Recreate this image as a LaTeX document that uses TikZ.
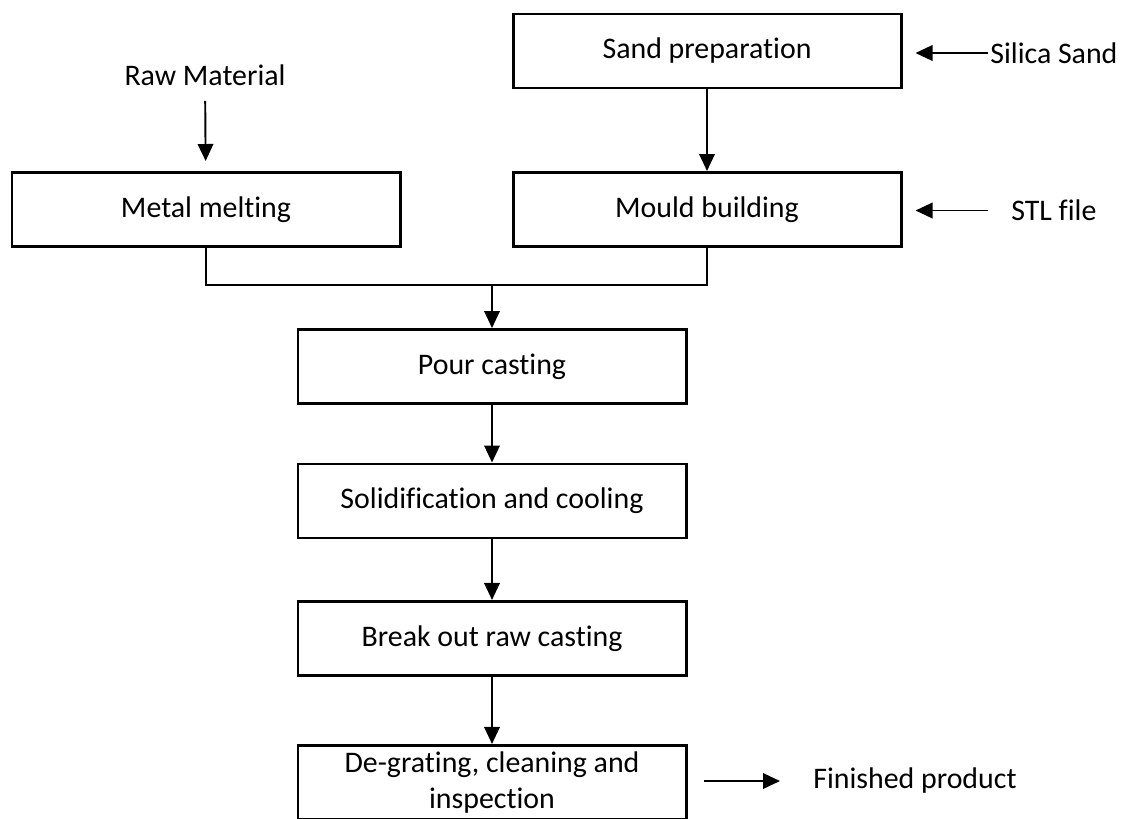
\documentclass[tikz,border=0pt]{standalone}
\usepackage{fontspec}
\setmainfont{Carlito}[Ligatures=NoCommon]
\usetikzlibrary{arrows.meta,positioning}
\tikzset{%
    >={Triangle[length=3.4mm,width=3.1mm]},
    stage/.style={draw,line width=1.7pt,minimum width=7.76cm,minimum height=1.48cm,inner sep=0pt,align=center},
    src/.style={inner sep=0pt},
    flow/.style={->,line width=1.1pt},
    link/.style={line width=1.1pt},
    every node/.style={font=\fontsize{17}{20.5}\selectfont}
}

\begin{document}
\begin{tikzpicture}[node distance=1.2cm]
            \useasboundingbox (0,0) rectangle (22.44,-16.36);
            \node [stage] (metal) at (4.12,-4.19) {Metal melting};
            \node [stage] (sand) at (14.14,-1.02) {Sand preparation};
            \node [stage,below=1.63cm of sand] (mould) {Mould building};
            \node [stage] (pour) at (9.84,-7.33) {Pour casting};
            \node [stage,below=1.15cm of pour] (solid) {Solidification and cooling};
            \node [stage,below=1.21cm of solid] (break) {Break out raw casting};
            \node [stage,below=1.34cm of break] (degrate) {De-grating, cleaning and\\inspection};
            %%%%% inputs and output
            \node [src] (raw) at (4.10,-1.50) {Raw Material};
            \node [src,anchor=west] (silica) at (19.80,-1.06) {Silica Sand};
            \node [src,anchor=west] (stl) at (20.22,-4.21) {STL file};
            \node [src,anchor=west] (fin) at (16.26,-15.62) {Finished product};
            \coordinate (join) at (9.84,-5.70);
            %%%%%
            \draw[flow,shorten <=0.3cm,shorten >=0.2cm] (raw) -- (metal);
            \draw[flow,shorten <=0.04cm,shorten >=0.26cm] (silica.west) -- (silica.west -| sand.east);
            \draw[flow,shorten <=0.46cm,shorten >=0.26cm] (stl.west) -- (stl.west -| mould.east);
            \draw[flow] (sand) -- (mould);
            \draw[link] (metal.south) |- (join) -| (mould.south);
            \draw[flow] (join) -- (pour);
            \draw[flow] (pour) -- (solid);
            \draw[flow] (solid) -- (break);
            \draw[flow] (break) -- (degrate);
            \draw[flow,shorten <=0.33cm,shorten >=0.66cm] (fin.west -| degrate.east) -- (fin.west);
\end{tikzpicture}
\end{document}
